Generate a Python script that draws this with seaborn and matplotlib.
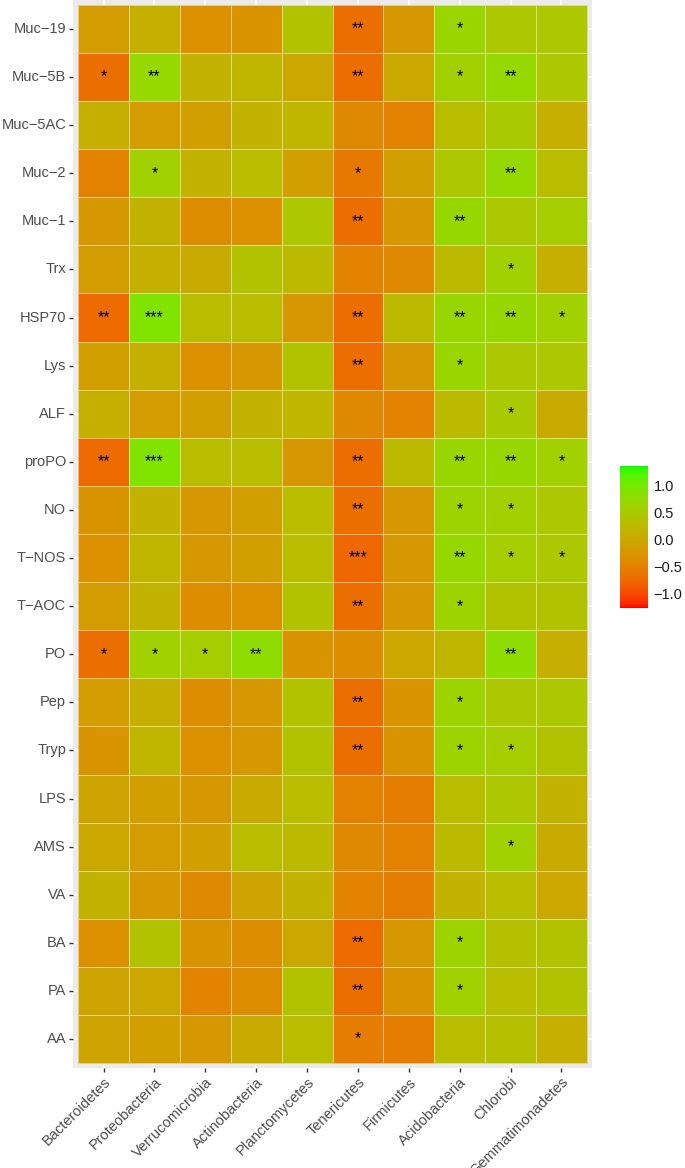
import numpy as np
import pandas as pd
import matplotlib
matplotlib.use("Agg")
import matplotlib.pyplot as plt
from matplotlib.colors import ListedColormap
import seaborn as sns

sns.set_theme(style="white")
plt.rcParams['font.family'] = ['Liberation Sans', 'DejaVu Sans']

phyla = ['Bacteroidetes', 'Proteobacteria', 'Verrucomicrobia', 'Actinobacteria',
         'Planctomycetes', 'Tenericutes', 'Firmicutes', 'Acidobacteria',
         'Chlorobi', 'Gemmatimonadetes']
indices = ['Muc−19', 'Muc−5B', 'Muc−5AC', 'Muc−2', 'Muc−1', 'Trx', 'HSP70', 'Lys',
           'ALF', 'proPO', 'NO', 'T−NOS', 'T−AOC', 'PO', 'Pep', 'Tryp', 'LPS',
           'AMS', 'VA', 'BA', 'PA', 'AA']

values = [
    [-0.15, 0.10, -0.30, -0.25, 0.40, -0.68, -0.20, 0.66, 0.45, 0.45],
    [-0.68, 0.72, 0.15, 0.20, 0.00, -0.70, 0.00, 0.58, 0.72, 0.45],
    [0.10, -0.15, -0.10, 0.15, 0.20, -0.40, -0.48, 0.30, 0.50, 0.10],
    [-0.48, 0.60, 0.15, 0.30, -0.10, -0.58, -0.10, 0.45, 0.72, 0.30],
    [-0.20, 0.15, -0.35, -0.30, 0.45, -0.70, -0.20, 0.70, 0.45, 0.55],
    [-0.15, 0.10, 0.05, 0.40, 0.25, -0.45, -0.40, 0.25, 0.60, 0.10],
    [-0.74, 0.90, 0.30, 0.30, -0.20, -0.70, 0.25, 0.68, 0.70, 0.60],
    [-0.10, 0.10, -0.30, -0.20, 0.40, -0.70, -0.20, 0.66, 0.45, 0.45],
    [0.10, -0.15, -0.10, 0.15, 0.20, -0.40, -0.48, 0.25, 0.50, 0.05],
    [-0.74, 0.90, 0.30, 0.30, -0.20, -0.70, 0.25, 0.68, 0.70, 0.60],
    [-0.25, 0.15, -0.20, -0.10, 0.30, -0.68, -0.20, 0.64, 0.58, 0.45],
    [-0.30, 0.20, -0.20, -0.10, 0.30, -0.76, -0.20, 0.70, 0.55, 0.45],
    [-0.15, 0.15, -0.35, -0.30, 0.40, -0.68, -0.20, 0.64, 0.40, 0.40],
    [-0.68, 0.60, 0.55, 0.78, -0.25, -0.35, 0.00, 0.20, 0.78, 0.10],
    [-0.15, 0.10, -0.35, -0.20, 0.40, -0.68, -0.25, 0.64, 0.45, 0.45],
    [-0.25, 0.20, -0.30, -0.20, 0.40, -0.68, -0.25, 0.64, 0.55, 0.40],
    [-0.05, -0.10, -0.20, 0.05, 0.30, -0.48, -0.52, 0.30, 0.45, 0.15],
    [0.00, -0.15, -0.10, 0.30, 0.25, -0.40, -0.48, 0.25, 0.60, 0.05],
    [0.15, -0.20, -0.40, -0.05, 0.15, -0.45, -0.52, 0.15, 0.30, 0.00],
    [-0.30, 0.40, -0.25, -0.35, 0.00, -0.72, -0.20, 0.64, 0.35, 0.40],
    [-0.05, 0.00, -0.45, -0.35, 0.40, -0.68, -0.25, 0.60, 0.30, 0.40],
    [-0.05, -0.10, -0.20, 0.05, 0.30, -0.52, -0.52, 0.30, 0.35, 0.10],
]

stars = [
    ['', '', '', '', '', '**', '', '*', '', ''],
    ['*', '**', '', '', '', '**', '', '*', '**', ''],
    ['', '', '', '', '', '', '', '', '', ''],
    ['', '*', '', '', '', '*', '', '', '**', ''],
    ['', '', '', '', '', '**', '', '**', '', ''],
    ['', '', '', '', '', '', '', '', '*', ''],
    ['**', '***', '', '', '', '**', '', '**', '**', '*'],
    ['', '', '', '', '', '**', '', '*', '', ''],
    ['', '', '', '', '', '', '', '', '*', ''],
    ['**', '***', '', '', '', '**', '', '**', '**', '*'],
    ['', '', '', '', '', '**', '', '*', '*', ''],
    ['', '', '', '', '', '***', '', '**', '*', '*'],
    ['', '', '', '', '', '**', '', '*', '', ''],
    ['*', '*', '*', '**', '', '', '', '', '**', ''],
    ['', '', '', '', '', '**', '', '*', '', ''],
    ['', '', '', '', '', '**', '', '*', '*', ''],
    ['', '', '', '', '', '', '', '', '', ''],
    ['', '', '', '', '', '', '', '', '*', ''],
    ['', '', '', '', '', '', '', '', '', ''],
    ['', '', '', '', '', '**', '', '*', '', ''],
    ['', '', '', '', '', '**', '', '*', '', ''],
    ['', '', '', '', '', '*', '', '', '', ''],
]

vmin, vmax = -1.26, 1.35


# red -> green gradient interpolated in CIELAB, like ggplot's scale_fill_gradient
def srgb_to_lab(rgb):
    rgb = np.asarray(rgb, float)
    lin = np.where(rgb <= 0.04045, rgb / 12.92, ((rgb + 0.055) / 1.055) ** 2.4)
    m = np.array([[0.4124, 0.3576, 0.1805],
                  [0.2126, 0.7152, 0.0722],
                  [0.0193, 0.1192, 0.9505]])
    xyz = m @ lin / np.array([0.95047, 1.0, 1.08883])
    f = np.where(xyz > 0.008856, np.cbrt(xyz), 7.787 * xyz + 16 / 116)
    return np.array([116 * f[1] - 16, 500 * (f[0] - f[1]), 200 * (f[1] - f[2])])


def lab_to_srgb(lab):
    L, a, b = lab
    fy = (L + 16) / 116
    fx = fy + a / 500
    fz = fy - b / 200
    f = np.array([fx, fy, fz])
    xyz = np.where(f ** 3 > 0.008856, f ** 3, (f - 16 / 116) / 7.787)
    xyz = xyz * np.array([0.95047, 1.0, 1.08883])
    m = np.array([[3.2406, -1.5372, -0.4986],
                  [-0.9689, 1.8758, 0.0415],
                  [0.0557, -0.2040, 1.0570]])
    lin = np.clip(m @ xyz, 0, 1)
    rgb = np.where(lin <= 0.0031308, 12.92 * lin, 1.055 * lin ** (1 / 2.4) - 0.055)
    return np.clip(rgb, 0, 1)


lab_lo = srgb_to_lab([1, 0, 0])
lab_hi = srgb_to_lab([0, 1, 0])
cmap = ListedColormap([lab_to_srgb(lab_lo + t * (lab_hi - lab_lo)) for t in np.linspace(0, 1, 256)])

df = pd.DataFrame(values, index=indices, columns=phyla)
annot = np.array(stars)

fig = plt.figure(figsize=(6.85, 11.68), dpi=100)
ax = fig.add_axes([73 / 685, 100 / 1168, 519 / 685, 1068 / 1168])
cax = fig.add_axes([620 / 685, 560 / 1168, 28 / 685, 142 / 1168])

ax.set_facecolor('#EBEBEB')
sns.heatmap(df, ax=ax, cbar_ax=cax, cmap=cmap, vmin=vmin, vmax=vmax,
            annot=annot, fmt='', annot_kws={'color': 'black', 'fontsize': 11.5},
            linewidths=0.6, linecolor=(1, 1, 1, 0.5))

ax.set_xlim(-0.1, 10.1)
ax.set_ylim(22.1, -0.1)
ax.grid(True, color='white', linewidth=1.1)
ax.set_axisbelow(True)
for s in ax.spines.values():
    s.set_visible(False)

ax.set_xlabel('')
ax.set_ylabel('')
ax.tick_params(axis='both', which='major', length=3, width=1, color='#333333',
               labelcolor='#4D4D4D', labelsize=10.5, bottom=True, left=True, pad=2)
ax.set_yticklabels(indices, rotation=0)
ax.set_xticklabels(phyla, rotation=45, ha='right', rotation_mode='anchor')

cax.set_yticks([-1.0, -0.5, 0.0, 0.5, 1.0])
cax.set_yticklabels(['−1.0', '−0.5', '0.0', '0.5', '1.0'])
cax.tick_params(axis='y', direction='in', length=4, width=0.8, color='white',
                left=True, right=True, labelsize=10.5, labelcolor='#1A1A1A', pad=4)
cbar = ax.collections[0].colorbar
cbar.outline.set_visible(False)

fig.savefig('out.png', dpi=100)
plt.close(fig)
